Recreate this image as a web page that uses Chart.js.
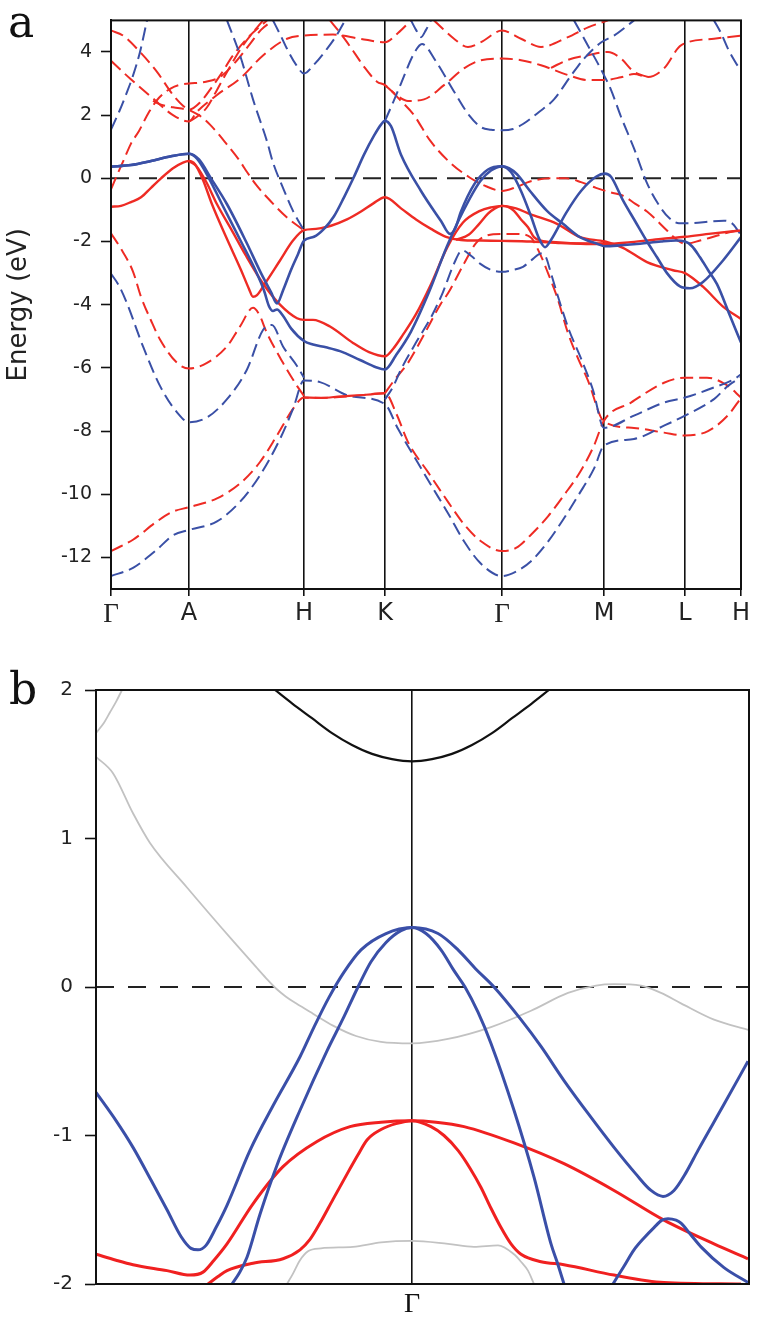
<!DOCTYPE html>
<html>
<head>
<meta charset="utf-8">
<title>Band structure</title>
<script src="https://cdn.jsdelivr.net/npm/chart.js@4.4.1/dist/chart.umd.min.js"></script>
<style>
  html, body { margin: 0; padding: 0; background: #fff; }
  #page { position: relative; width: 762px; height: 1319px; overflow: hidden; background: #fff; }
  #chartA { position: absolute; left: 0; top: 0; }
  #chartB { position: absolute; left: 0; top: 640px; }
  .panel { position: absolute; font-family: 'DejaVu Serif', 'Liberation Serif', serif; font-size: 44px; line-height: 44px; color: #111; }
</style>
</head>
<body>
<div id="page">
  <canvas id="chartA" width="762" height="640"></canvas>
  <canvas id="chartB" width="762" height="679"></canvas>
  <div class="panel" style="left:8px; top:0px;">a</div>
  <div class="panel" style="left:9px; top:667px;">b</div>
</div>
<script>
// ---------------- Panel a data (k-path coordinate, energy in eV) ----------------
const kPathA = [0, 78, 193, 274, 391, 493, 574, 630];
const kLabelsA = ['Γ', 'A', 'H', 'K', 'Γ', 'M', 'L', 'H'];
const yTicksA = [4, 2, 0, -2, -4, -6, -8, -10, -12];
const fermiA = [[0, 0], [630, 0]];

const blueSolid1 = [[0,0.37],[20,0.42],[40,0.55],[60,0.7],[78,0.78],[88,0.6],[100,0.0],[116,-0.82],[135,-2.0],[150,-3.0],[160,-3.6],[166,-3.96],[172,-3.55],[180,-2.9],[187,-2.4],[193,-1.97],[203,-1.85],[213,-1.6],[223,-1.2],[233,-0.6],[243,0.05],[253,0.75],[263,1.35],[270,1.7],[274,1.82],[280,1.65],[290,0.75],[310,-0.4],[330,-1.35],[339,-1.76],[344,-1.6],[350,-1.05],[363,-0.2],[377,0.28],[391,0.38],[400,0.2],[410,-0.4],[420,-1.2],[428,-1.9],[434,-2.18],[440,-1.95],[455,-1.1],[470,-0.4],[485,0.05],[494,0.15],[500,0.05],[512,-0.7],[524,-1.35],[536,-2.0],[546,-2.5],[556,-3.0],[569,-3.42],[579,-3.48],[592,-3.28],[612,-2.6],[630,-1.86]];
const blueSolid2 = [[0,0.37],[20,0.42],[40,0.55],[60,0.7],[78,0.78],[86,0.62],[98,0.0],[111,-0.82],[130,-2.0],[145,-2.95],[153,-3.55],[158,-4.05],[162,-4.2],[166,-4.15],[172,-4.35],[180,-4.75],[193,-5.15],[202,-5.26],[215,-5.35],[229,-5.47],[249,-5.75],[265,-5.98],[274,-6.05],[285,-5.6],[300,-4.85],[318,-3.6],[336,-2.15],[352,-1.05],[369,-0.1],[380,0.25],[391,0.38],[398,0.32],[406,0.13],[419,-0.4],[436,-1.03],[452,-1.44],[469,-1.86],[486,-2.07],[494,-2.15],[510,-2.12],[529,-2.07],[550,-2.0],[565,-1.97],[574,-2.0],[581,-2.15],[589,-2.5],[597,-2.9],[606,-3.35],[619,-4.35],[630,-5.2]];
const redSolid1 = [[0,-0.9],[10,-0.87],[20,-0.75],[30,-0.6],[40,-0.3],[50,0.0],[62,0.32],[72,0.5],[78,0.55],[84,0.45],[92,-0.05],[101,-0.82],[115,-1.85],[130,-2.9],[138,-3.5],[142,-3.75],[146,-3.7],[154,-3.33],[169,-2.6],[182,-1.97],[193,-1.64],[205,-1.6],[220,-1.5],[236,-1.3],[250,-1.05],[262,-0.8],[274,-0.6],[290,-0.95],[305,-1.3],[320,-1.6],[335,-1.85],[350,-1.95],[370,-1.97],[391,-1.98],[420,-2.0],[450,-2.05],[480,-2.08],[494,-2.08],[520,-2.02],[550,-1.92],[574,-1.85],[600,-1.75],[630,-1.65]];
const redSolid2 = [[78,0.55],[85,0.4],[95,-0.1],[106,-0.82],[120,-1.6],[135,-2.45],[152,-3.33],[169,-4.0],[186,-4.43],[193,-4.48],[202,-4.48],[219,-4.69],[242,-5.21],[258,-5.5],[274,-5.63],[282,-5.4],[292,-4.95],[305,-4.3],[320,-3.35],[336,-2.2],[352,-1.4],[369,-1.03],[380,-0.92],[391,-0.87],[405,-0.95],[419,-1.13],[446,-1.44],[469,-1.86],[494,-2.0],[512,-2.2],[536,-2.65],[562,-2.91],[574,-3.0],[592,-3.43],[612,-4.06],[630,-4.45]];
const redSolid3 = [[345,-1.95],[358,-1.78],[368,-1.45],[377,-1.12],[384,-0.95],[391,-0.87],[397,-0.9],[403,-1.03],[410,-1.3],[417,-1.55],[423,-1.86],[430,-1.97],[445,-2.02],[470,-2.06],[494,-2.06]];
const redSolid4 = [[193,-6.94],[210,-6.95],[230,-6.9],[255,-6.85],[274,-6.8]];

const blueDash1 = [[0,1.54],[3,1.75],[8,2.1],[15,2.65],[22,3.25],[29,4.0],[36,5.0]];
const blueDash2 = [[116,5.0],[129,3.9],[142,2.5],[156,1.17],[162,0.5],[172,-0.3],[182,-1.03],[193,-1.65]];
const blueDash3 = [[162,5.0],[170,4.5],[176,4.1],[185,3.6],[193,3.32],[203,3.6],[216,4.1],[226,4.55],[234,5.0]];
const blueDash4 = [[274,1.82],[282,2.4],[290,3.0],[303,3.95],[311,4.25],[325,3.7],[343,2.75],[358,2.0],[370,1.62],[380,1.54],[391,1.52],[402,1.56],[412,1.72],[428,2.1],[443,2.5],[460,3.25],[473,3.79],[490,4.3],[503,4.52],[523,5.0]];
const blueDash5 = [[300,5.0],[305,4.7],[310,4.47],[315,4.7],[320,5.0]];
const blueDash6 = [[463,5.0],[477,4.2],[490,3.45],[500,2.8],[510,1.95],[523,0.95],[536,-0.15],[548,-0.85],[558,-1.25],[568,-1.42],[580,-1.42],[600,-1.36],[613,-1.34],[622,-1.45],[630,-1.8]];
const blueDash7 = [[603,5.0],[610,4.6],[617,4.1],[624,3.7],[630,3.4]];
const blueDash8 = [[274,-7.0],[282,-6.6],[290,-6.05],[305,-5.2],[320,-4.4],[332,-3.6],[343,-2.7],[351,-2.28],[360,-2.45],[369,-2.7],[380,-2.9],[391,-2.96],[402,-2.9],[412,-2.8],[422,-2.55],[430,-2.38],[435,-2.5],[439,-2.9],[446,-3.64],[458,-4.8],[470,-5.7],[482,-6.7],[493,-7.9],[523,-7.51],[553,-7.1],[574,-6.94],[603,-6.62],[623,-6.36],[630,-6.2]];
const blueDash9 = [[0,-12.59],[22,-12.33],[46,-11.75],[62,-11.3],[78,-11.13],[106,-10.86],[129,-10.24],[149,-9.4],[169,-8.25],[182,-7.3],[193,-6.4],[209,-6.45],[239,-6.89],[274,-7.15],[287,-7.93],[303,-8.8],[320,-9.71],[337,-10.6],[353,-11.49],[370,-12.2],[391,-12.59],[405,-12.45],[420,-12.12],[437,-11.5],[453,-10.76],[468,-10.0],[483,-9.19],[493,-8.46],[523,-8.25],[553,-7.83],[574,-7.51],[603,-6.99],[617,-6.57],[630,-6.3]];
const blueDash10 = [[0,-3.02],[8,-3.4],[16,-3.96],[32,-5.32],[49,-6.57],[66,-7.41],[78,-7.72],[96,-7.57],[116,-6.99],[136,-6.05],[152,-4.8],[161,-4.64],[172,-5.32],[186,-5.94],[193,-6.31]];

const redDash1 = [[0,4.68],[12,4.52],[29,4.0],[46,3.37],[62,2.64],[72,2.3],[78,2.17],[88,2.0],[99,1.7],[116,1.07],[129,0.54],[136,0.2],[145,-0.2],[156,-0.6],[176,-1.24],[193,-1.65]];
const redDash2 = [[0,3.72],[19,3.16],[42,2.53],[62,2.0],[78,1.8],[86,2.11],[106,2.64],[129,3.16],[152,3.89],[176,4.42],[193,4.52],[222,4.55],[249,4.42],[274,4.31],[287,4.6],[300,5.0]];
const redDash3 = [[219,5.0],[228,4.65],[236,4.31],[245,3.9],[252,3.58],[266,3.06],[274,2.95],[290,2.45],[303,2.0],[319,1.2],[339,0.5],[359,0.02],[375,-0.25],[391,-0.4],[405,-0.28],[419,-0.1],[440,0.0],[455,0.0],[470,-0.12],[485,-0.3],[500,-0.45],[512,-0.55],[524,-0.8],[536,-1.05],[556,-1.65],[566,-1.95],[574,-2.07],[589,-1.97],[612,-1.76],[630,-1.62]];
const redDash4 = [[0,-0.35],[6,0.1],[13,0.6],[20,1.1],[28,1.5],[38,2.1],[48,2.55],[60,2.85],[70,2.97],[78,3.0],[95,3.06],[109,3.21],[125,3.7],[140,4.3],[150,4.7],[162,5.0]];
const redDash5 = [[78,1.8],[86,1.95],[96,2.25],[106,2.8],[116,3.37],[132,4.21],[152,5.0]];
const redDash6 = [[42,2.45],[50,2.33],[62,2.25],[72,2.2],[78,2.17],[89,2.4],[100,2.85],[110,3.3],[122,3.89],[139,4.52],[156,5.0]];
const redDash7 = [[0,-1.74],[9,-2.18],[22,-2.95],[30,-3.75],[40,-4.5],[49,-5.1],[66,-5.84],[78,-6.02],[96,-5.84],[116,-5.32],[129,-4.69],[142,-4.1],[148,-4.3],[156,-4.9],[172,-5.84],[186,-6.57],[193,-6.89]];
const redDash8 = [[0,-11.8],[22,-11.44],[46,-10.86],[62,-10.55],[78,-10.41],[106,-10.13],[129,-9.66],[149,-8.98],[166,-8.14],[182,-7.3],[193,-6.94],[210,-6.95],[240,-6.9],[274,-6.8],[286,-7.5],[297,-8.35],[317,-9.3],[337,-10.24],[353,-10.95],[370,-11.49],[391,-11.8],[405,-11.7],[420,-11.28],[437,-10.7],[453,-10.03],[470,-9.25],[483,-8.46],[493,-7.67],[520,-7.1],[553,-6.47],[574,-6.31],[596,-6.31],[616,-6.55],[630,-6.94]];
const redDash9 = [[274,-6.8],[283,-6.4],[297,-5.84],[313,-4.95],[330,-3.96],[337,-3.64],[353,-2.7],[365,-2.05],[375,-1.82],[391,-1.76],[405,-1.76],[419,-1.85],[429,-2.39],[437,-3.0],[446,-3.75],[457,-4.9],[467,-5.7],[477,-6.4],[493,-7.7],[523,-7.9],[553,-8.05],[574,-8.14],[597,-8.0],[617,-7.5],[630,-6.95]];
const redDash10 = [[274,2.95],[287,2.6],[297,2.45],[313,2.5],[333,2.95],[353,3.48],[370,3.74],[391,3.79],[410,3.74],[430,3.58],[457,3.27],[477,3.11],[493,3.11],[510,3.2],[523,3.3],[537,3.21],[553,3.48],[570,4.21],[603,4.42],[630,4.52]];
const redDash11 = [[323,5.0],[343,4.42],[357,4.16],[370,4.31],[391,4.68],[410,4.42],[430,4.16],[457,4.47],[477,4.78],[497,5.0]];
const redDash12 = [[440,3.5],[457,3.75],[477,3.9],[497,4.0],[510,3.79],[523,3.37],[537,3.21]];

// ---------------- Panel b data ----------------
const kPathB = [316];
const kLabelsB = ['Γ'];
const kMaxB = 653;
const yTicksB = [2, 1, 0, -1, -2];
const fermiB = [[0, 0], [653, 0]];

const blackBandB = [[179,2.0],[196,1.91],[216,1.81],[236,1.71],[256,1.63],[276,1.57],[296,1.535],[316,1.52],[336,1.535],[356,1.57],[376,1.63],[396,1.71],[416,1.81],[436,1.91],[453,2.0]];
const grayBand1B = [[0,1.71],[8,1.78],[14,1.85],[20,1.92],[26,2.0]];
const grayBand2B = [[0,1.55],[17,1.44],[37,1.17],[54,0.97],[91,0.67],[137,0.31],[160,0.135],[170,0.06],[180,-0.01],[190,-0.065],[200,-0.11],[217,-0.18],[237,-0.26],[260,-0.33],[285,-0.37],[316,-0.38],[352,-0.35],[395,-0.27],[435,-0.16],[472,-0.04],[500,0.01],[518,0.02],[545,0.01],[565,-0.04],[585,-0.11],[618,-0.22],[653,-0.29]];
const grayBand3B = [[191,-2.0],[197,-1.93],[204,-1.84],[212,-1.78],[225,-1.76],[257,-1.75],[285,-1.72],[316,-1.71],[352,-1.73],[378,-1.75],[402,-1.74],[418,-1.8],[425,-1.85],[432,-1.91],[438,-2.0]];
const blueBand1B = [[0,-0.71],[20,-0.9],[37,-1.08],[55,-1.3],[71,-1.5],[85,-1.68],[95,-1.76],[102,-1.77],[110,-1.74],[120,-1.62],[131,-1.47],[154,-1.1],[177,-0.8],[204,-0.47],[218,-0.27],[233,-0.07],[248,0.1],[265,0.25],[290,0.36],[316,0.4],[342,0.36],[362,0.25],[380,0.12],[398,0.0],[425,-0.22],[445,-0.4],[468,-0.63],[493,-0.86],[518,-1.08],[540,-1.26],[555,-1.37],[567,-1.41],[578,-1.37],[590,-1.25],[602,-1.1],[628,-0.79],[652,-0.5]];
const blueBand2B = [[136,-2.0],[143,-1.93],[151,-1.82],[164,-1.53],[181,-1.2],[204,-0.83],[231,-0.43],[248,-0.2],[262,0.0],[275,0.17],[290,0.3],[305,0.38],[316,0.4],[330,0.36],[345,0.25],[358,0.11],[369,0.0],[382,-0.17],[395,-0.38],[418,-0.83],[438,-1.28],[455,-1.73],[462,-1.87],[468,-2.0]];
const blueBand3B = [[517,-2.0],[528,-1.88],[538,-1.77],[548,-1.69],[558,-1.62],[566,-1.57],[572,-1.56],[580,-1.57],[585,-1.59],[595,-1.67],[605,-1.75],[628,-1.89],[652,-1.99]];
const redBand1B = [[0,-1.8],[20,-1.84],[37,-1.87],[71,-1.91],[94,-1.94],[107,-1.92],[118,-1.84],[131,-1.73],[157,-1.46],[187,-1.21],[221,-1.04],[254,-0.94],[285,-0.91],[316,-0.9],[340,-0.91],[368,-0.94],[418,-1.05],[468,-1.19],[518,-1.37],[568,-1.57],[618,-1.73],[652,-1.83]];
const redBand2B = [[112,-2.0],[122,-1.95],[131,-1.91],[157,-1.86],[187,-1.83],[204,-1.77],[214,-1.7],[224,-1.59],[237,-1.43],[251,-1.26],[262,-1.13],[271,-1.03],[285,-0.96],[300,-0.92],[316,-0.9],[335,-0.94],[348,-1.0],[362,-1.1],[374,-1.22],[385,-1.35],[395,-1.49],[405,-1.62],[415,-1.73],[425,-1.8],[445,-1.85],[468,-1.87],[518,-1.94],[568,-1.99],[645,-2.0]];

// ---------------- styling helpers ----------------
const SANS = "'DejaVu Sans', 'Liberation Sans', Arial, sans-serif";
const SERIF = "'Liberation Serif', 'DejaVu Serif', serif";
const BLUE = '#3a50a6';
const RED = '#ee2b24';
const BLUE_B = '#3a4fa8';
const RED_B = '#f02020';
const GRAY = '#c2c2c2';

function toXY(arr) { return arr.map(p => ({ x: p[0], y: p[1] })); }
function band(arr, color, dash, width) {
  return {
    data: toXY(arr), borderColor: color, borderWidth: width, borderDash: dash,
    pointRadius: 0, pointHoverRadius: 0, fill: false, tension: 0,
    cubicInterpolationMode: 'monotone', borderCapStyle: 'butt', borderJoinStyle: 'round'
  };
}
function refLine(arr, dash) {
  return { data: toXY(arr), borderColor: '#222', borderWidth: 2, borderDash: dash, pointRadius: 0, fill: false, tension: 0 };
}

const frame = {
  id: 'frame',
  afterDraw(chart) {
    const { ctx, chartArea: a } = chart;
    ctx.save();
    ctx.strokeStyle = '#111';
    ctx.lineWidth = 2;
    ctx.strokeRect(a.left, a.top, a.right - a.left, a.bottom - a.top);
    ctx.restore();
  }
};

const DASH = [13, 6];
const datasetsA = [
  band(blueSolid1, BLUE, [], 2.6), band(blueSolid2, BLUE, [], 2.6),
  band(redSolid1, RED, [], 2.4), band(redSolid2, RED, [], 2.4), band(redSolid3, RED, [], 2.4), band(redSolid4, RED, [], 2.2),
  band(blueDash1, BLUE, DASH, 2), band(blueDash2, BLUE, DASH, 2), band(blueDash3, BLUE, DASH, 2), band(blueDash4, BLUE, DASH, 2),
  band(blueDash5, BLUE, DASH, 2), band(blueDash6, BLUE, DASH, 2), band(blueDash7, BLUE, DASH, 2), band(blueDash8, BLUE, DASH, 2),
  band(blueDash9, BLUE, DASH, 2), band(blueDash10, BLUE, DASH, 2),
  band(redDash1, RED, DASH, 2), band(redDash2, RED, DASH, 2), band(redDash3, RED, DASH, 2), band(redDash4, RED, DASH, 2),
  band(redDash5, RED, DASH, 2), band(redDash6, RED, DASH, 2), band(redDash7, RED, DASH, 2), band(redDash8, RED, DASH, 2),
  band(redDash9, RED, DASH, 2), band(redDash10, RED, DASH, 2), band(redDash11, RED, DASH, 2), band(redDash12, RED, DASH, 2),
  refLine(fermiA, [18, 10])
];

new Chart(document.getElementById('chartA'), {
  type: 'line',
  data: { datasets: datasetsA },
  options: {
    responsive: false, animation: false, devicePixelRatio: 1, events: [],
    layout: { padding: { left: 0, right: 21, top: 15, bottom: 0 } },
    plugins: { legend: { display: false }, tooltip: { enabled: false } },
    scales: {
      x: {
        type: 'linear', min: 0, max: 630,
        afterBuildTicks: ax => { ax.ticks = kPathA.map(v => ({ value: v })); },
        afterFit: ax => { ax.height = 51; },
        ticks: {
          autoSkip: false, maxRotation: 0, padding: 3, color: '#222',
          callback: (v, i) => kLabelsA[i],
          font: ctx => (kLabelsA[ctx.index] === 'Γ' ? { family: SERIF, size: 27 } : { family: SANS, size: 24 })
        },
        grid: { color: '#111', lineWidth: 1.6, drawOnChartArea: true, drawTicks: true, tickLength: 7, tickColor: '#111', tickWidth: 1.6 },
        border: { display: true, color: '#111', width: 2 }
      },
      y: {
        min: -13, max: 5,
        afterBuildTicks: ax => { ax.ticks = yTicksA.map(v => ({ value: v })); },
        afterFit: ax => { ax.width = 111; },
        ticks: { color: '#222', font: { family: SANS, size: 19 }, padding: 9, callback: v => String(v) },
        grid: { drawOnChartArea: false, drawTicks: true, tickLength: 10, tickColor: '#111', tickWidth: 1.6 },
        border: { display: true, color: '#111', width: 2 },
        title: { display: true, text: 'Energy (eV)', color: '#222', font: { family: SANS, size: 26 }, padding: { top: 4, bottom: 0 } }
      }
    }
  },
  plugins: [frame]
});

const datasetsB = [
  band(blueBand1B, BLUE_B, [], 3), band(blueBand2B, BLUE_B, [], 3), band(blueBand3B, BLUE_B, [], 3),
  band(redBand1B, RED_B, [], 3), band(redBand2B, RED_B, [], 3),
  band(blackBandB, '#111', [], 2.2),
  band(grayBand1B, GRAY, [], 1.8), band(grayBand2B, GRAY, [], 1.8), band(grayBand3B, GRAY, [], 1.8),
  refLine(fermiB, [18, 14])
];

new Chart(document.getElementById('chartB'), {
  type: 'line',
  data: { datasets: datasetsB },
  options: {
    responsive: false, animation: false, devicePixelRatio: 1, events: [],
    layout: { padding: { left: 0, right: 13, top: 50, bottom: 0 } },
    plugins: { legend: { display: false }, tooltip: { enabled: false } },
    scales: {
      x: {
        type: 'linear', min: 0, max: kMaxB,
        afterBuildTicks: ax => { ax.ticks = kPathB.map(v => ({ value: v })); },
        afterFit: ax => { ax.height = 35; },
        ticks: { autoSkip: false, maxRotation: 0, padding: 4, color: '#111', callback: (v, i) => kLabelsB[i], font: { family: SERIF, size: 28 } },
        grid: { color: '#111', lineWidth: 1.6, drawOnChartArea: true, drawTicks: false },
        border: { display: true, color: '#111', width: 2 }
      },
      y: {
        min: -2, max: 2,
        afterBuildTicks: ax => { ax.ticks = yTicksB.map(v => ({ value: v })); },
        afterFit: ax => { ax.width = 96; },
        ticks: { color: '#222', font: { family: SANS, size: 20 }, padding: 12, callback: v => String(v) },
        grid: { drawOnChartArea: false, drawTicks: true, tickLength: 11, tickColor: '#111', tickWidth: 1.6 },
        border: { display: true, color: '#111', width: 2 }
      }
    }
  },
  plugins: [frame]
});
</script>
</body>
</html>
